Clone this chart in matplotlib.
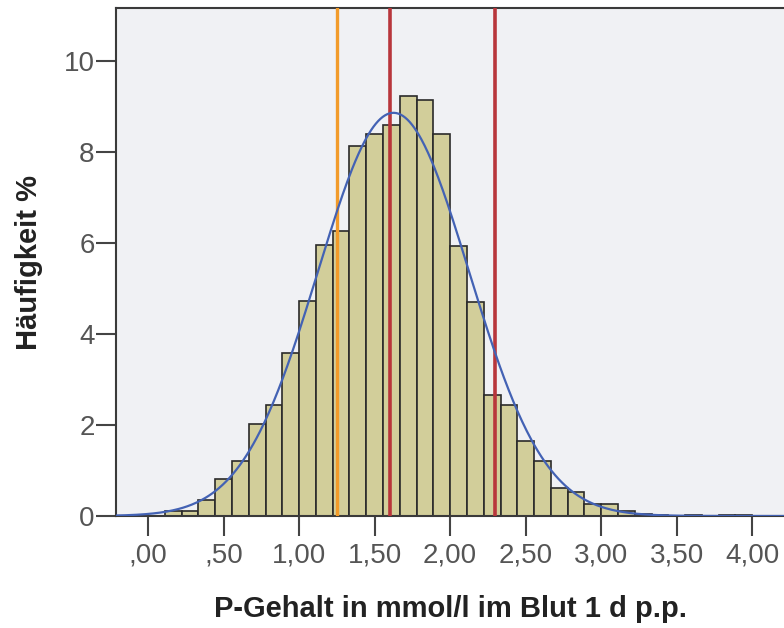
import numpy as np
import matplotlib; matplotlib.use("Agg")
import matplotlib.pyplot as plt

# histogram: bin edges k/9 (width 0.111), heights in %
bin_width = 1/9
bin_start = 0.0
freq_pct = [0.00, 0.11, 0.11, 0.36, 0.82, 1.20, 2.02, 2.45, 3.58, 4.72,
            5.96, 6.27, 8.14, 8.40, 8.60, 9.23, 9.14, 8.40, 5.93, 4.71,
            2.66, 2.44, 1.65, 1.20, 0.62, 0.53, 0.26, 0.26, 0.11, 0.05,
            0.02, 0.00, 0.02, 0.00, 0.02, 0.02]
# normal fit overlay (mean / sd of the sample)
curve_mean, curve_sd = 1.625, 0.50
# reference lines
orange_line = [1.25]
red_lines = [1.60, 2.30]

xticks = [0, 0.5, 1, 1.5, 2, 2.5, 3, 3.5, 4]
xticklabels = [",00", ",50", "1,00", "1,50", "2,00", "2,50", "3,00", "3,50", "4,00"]
yticks = [0, 2, 4, 6, 8, 10]

plt.rcParams['font.family'] = ['Liberation Sans', 'DejaVu Sans']

fig = plt.figure(figsize=(7.84, 6.28), dpi=100)
ax = fig.add_axes([116/784, 112/628, 668/784, 508/628])
ax.set_facecolor("#F0F1F4")

lefts = bin_start + np.arange(len(freq_pct))*bin_width
ax.bar(lefts, freq_pct, width=bin_width, align='edge', color="#D2CE9A",
       edgecolor="#2a2a2a", linewidth=1.2, zorder=2)

for x in orange_line:
    ax.axvline(x, color="#F29B2A", lw=2.4, zorder=3)
for x in red_lines:
    ax.axvline(x, color="#B8363B", lw=2.6, zorder=3)

xs = np.linspace(-0.25, 4.25, 600)
ys = 100*bin_width/(curve_sd*np.sqrt(2*np.pi))*np.exp(-0.5*((xs-curve_mean)/curve_sd)**2)
ax.plot(xs, ys, color="#4362B4", lw=1.6, zorder=4)

ax.set_xlim(-0.212, 4.21)
ax.set_ylim(0, 11.17)
ax.set_xticks(xticks, xticklabels)
ax.set_yticks(yticks)
ax.tick_params(axis='both', direction='out', length=14.4, width=1.5, color="#444444",
               labelsize=20, labelcolor="#555555")
ax.tick_params(axis='x', pad=5)
ax.tick_params(axis='y', pad=1)
for s in ['left', 'bottom', 'top']:
    ax.spines[s].set_color("#3a3a3a"); ax.spines[s].set_linewidth(1.5)
ax.spines['right'].set_visible(False)

ax.set_xlabel("P-Gehalt in mmol/l im Blut 1 d p.p.", fontsize=21, fontweight='bold',
              color="#222222", labelpad=19)
ax.set_ylabel("Häufigkeit %", fontsize=21, fontweight='bold', color="#222222", labelpad=15)

fig.savefig("out.png", dpi=100, facecolor="white")
